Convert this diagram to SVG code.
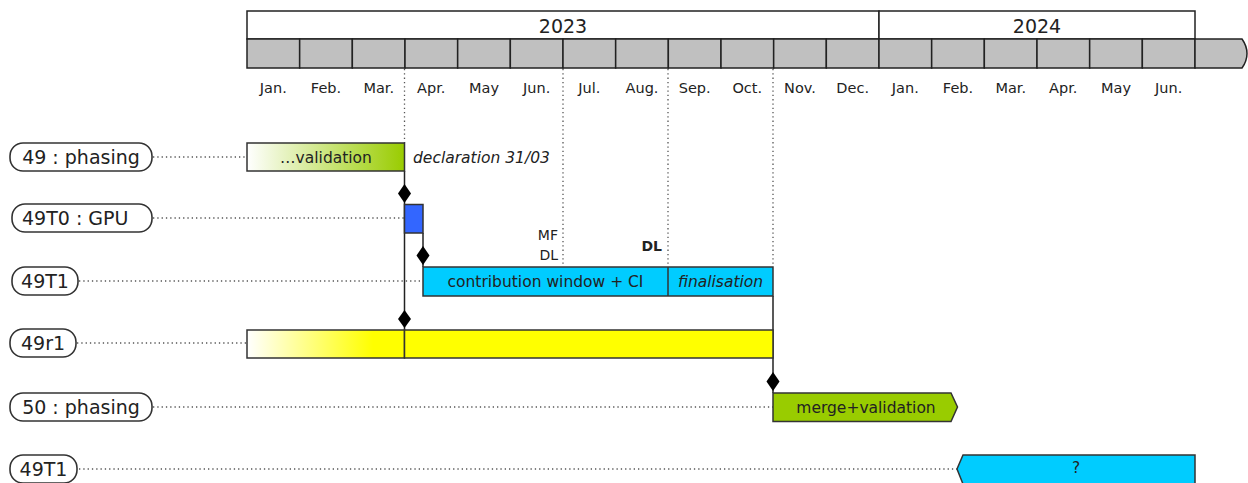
<svg xmlns="http://www.w3.org/2000/svg" width="1248" height="483" viewBox="0 0 1248 483">
<defs>
<linearGradient id="gGreen" x1="0" y1="0" x2="1" y2="0"><stop offset="0" stop-color="#ffffff"/><stop offset="1" stop-color="#99cc00"/></linearGradient>
<linearGradient id="gYellow" x1="0" y1="0" x2="1" y2="0"><stop offset="0" stop-color="#ffffff"/><stop offset="0.8" stop-color="#ffff00"/><stop offset="1" stop-color="#ffff00"/></linearGradient>
<style>
text{font-family:"DejaVu Sans","Liberation Sans",sans-serif;fill:#222}
.yr{font-size:19px;text-anchor:middle}
.mo{font-size:14.5px;text-anchor:middle}
.cell{fill:#c0c0c0;stroke:#222;stroke-width:1.5}
.ybox{fill:#fff;stroke:#222;stroke-width:1.5}
.lab{fill:#fff;stroke:#333;stroke-width:1.6}
.lt{font-size:19px}
.bar{stroke:#333;stroke-width:1.5}
.bt{font-size:15.5px;text-anchor:middle}
.dot{stroke:#555;stroke-width:1.3;stroke-dasharray:1.3 3;fill:none}
.sol{stroke:#222;stroke-width:1.5;fill:none}
.dia{fill:#000}
</style>
</defs>

<g id="timeline">
<rect class="ybox" x="247" y="11" width="632" height="28"/>
<rect class="ybox" x="879" y="11" width="316" height="28"/>
<text class="yr" x="563" y="33">2023</text>
<text class="yr" x="1037" y="33">2024</text>
<rect class="cell" x="247" y="39" width="52.67" height="29"/>
<rect class="cell" x="299.67" y="39" width="52.67" height="29"/>
<rect class="cell" x="352.33" y="39" width="52.67" height="29"/>
<rect class="cell" x="405" y="39" width="52.67" height="29"/>
<rect class="cell" x="457.67" y="39" width="52.67" height="29"/>
<rect class="cell" x="510.33" y="39" width="52.67" height="29"/>
<rect class="cell" x="563" y="39" width="52.67" height="29"/>
<rect class="cell" x="615.67" y="39" width="52.67" height="29"/>
<rect class="cell" x="668.33" y="39" width="52.67" height="29"/>
<rect class="cell" x="721" y="39" width="52.67" height="29"/>
<rect class="cell" x="773.67" y="39" width="52.67" height="29"/>
<rect class="cell" x="826.33" y="39" width="52.67" height="29"/>
<rect class="cell" x="879" y="39" width="52.67" height="29"/>
<rect class="cell" x="931.67" y="39" width="52.67" height="29"/>
<rect class="cell" x="984.33" y="39" width="52.67" height="29"/>
<rect class="cell" x="1037" y="39" width="52.67" height="29"/>
<rect class="cell" x="1089.67" y="39" width="52.67" height="29"/>
<rect class="cell" x="1142.33" y="39" width="52.67" height="29"/>
<path class="cell" d="M1195 39 H1242 Q1247 46 1247 53.5 Q1247 61 1242 68 H1195 Z"/>
<text class="mo" x="273.3" y="93">Jan.</text>
<text class="mo" x="326" y="93">Feb.</text>
<text class="mo" x="378.7" y="93">Mar.</text>
<text class="mo" x="431.3" y="93">Apr.</text>
<text class="mo" x="484" y="93">May</text>
<text class="mo" x="536.7" y="93">Jun.</text>
<text class="mo" x="589.3" y="93">Jul.</text>
<text class="mo" x="642" y="93">Aug.</text>
<text class="mo" x="694.7" y="93">Sep.</text>
<text class="mo" x="747.3" y="93">Oct.</text>
<text class="mo" x="800" y="93">Nov.</text>
<text class="mo" x="852.7" y="93">Dec.</text>
<text class="mo" x="905.3" y="93">Jan.</text>
<text class="mo" x="958" y="93">Feb.</text>
<text class="mo" x="1010.7" y="93">Mar.</text>
<text class="mo" x="1063.3" y="93">Apr.</text>
<text class="mo" x="1116" y="93">May</text>
<text class="mo" x="1168.7" y="93">Jun.</text>
</g>

<g id="connectors">
<line class="dot" x1="404.5" y1="69" x2="404.5" y2="143"/>
<line class="dot" x1="563" y1="69" x2="563" y2="264"/>
<line class="dot" x1="668" y1="69" x2="668" y2="266"/>
<line class="dot" x1="773" y1="69" x2="773" y2="266"/>
<line class="dot" x1="153" y1="157" x2="247" y2="157"/>
<line class="dot" x1="153" y1="218" x2="404" y2="218"/>
<line class="dot" x1="79" y1="281" x2="423" y2="281"/>
<line class="dot" x1="77" y1="343" x2="247" y2="343"/>
<line class="dot" x1="153" y1="407" x2="773" y2="407"/>
<line class="dot" x1="79" y1="469" x2="957" y2="469"/>
<line class="sol" x1="404.5" y1="171" x2="404.5" y2="330"/>
<line class="sol" x1="423" y1="233" x2="423" y2="267"/>
<line class="sol" x1="773" y1="296" x2="773" y2="393"/>
<path class="dia" d="M404.5 184 L411 193.5 L404.5 203 L398 193.5 Z"/>
<path class="dia" d="M423 246 L429.5 255.5 L423 265 L416.5 255.5 Z"/>
<path class="dia" d="M404.5 310 L411 319 L404.5 328 L398 319 Z"/>
<path class="dia" d="M773 372 L779.5 381.5 L773 391 L766.5 381.5 Z"/>
</g>

<g id="n49phasing">
<rect class="lab" x="10" y="143" width="142" height="28" rx="13"/>
<text class="lt" x="81" y="164" text-anchor="middle">49 : phasing</text>
<rect class="bar" x="247" y="143" width="157.5" height="28" fill="url(#gGreen)"/>
<text class="bt" x="326" y="162.5">…validation</text>
<text x="413" y="162.5" style="font-size:15.5px;font-style:italic">declaration 31/03</text>
</g>

<g id="n49T0">
<rect class="lab" x="12" y="204" width="140" height="28" rx="13"/>
<text class="lt" x="22" y="225">49T0 : GPU</text>
<rect class="bar" x="404.5" y="204.5" width="18.5" height="28.5" fill="#3366ff"/>
</g>

<g id="n49T1">
<rect class="lab" x="12" y="267" width="66" height="28" rx="13"/>
<text class="lt" x="45" y="288" text-anchor="middle">49T1</text>
<rect class="bar" x="423" y="267" width="350" height="29" fill="#00ccff"/>
<line class="bar" x1="668" y1="267" x2="668" y2="296"/>
<text class="bt" x="545.5" y="287">contribution window + CI</text>
<text class="bt" x="720.5" y="287" style="font-style:italic">finalisation</text>
<text x="558" y="240" style="font-size:14px;text-anchor:end">MF</text>
<text x="558" y="260" style="font-size:14px;text-anchor:end">DL</text>
<text x="662" y="251" style="font-size:14px;text-anchor:end;font-weight:bold">DL</text>
</g>

<g id="n49r1">
<rect class="lab" x="10" y="329" width="66" height="28" rx="13"/>
<text class="lt" x="43" y="350" text-anchor="middle">49r1</text>
<rect class="bar" x="247" y="330" width="157.5" height="28" fill="url(#gYellow)"/>
<rect class="bar" x="404.5" y="330" width="368.5" height="28" fill="#ffff00"/>
</g>

<g id="n50phasing">
<rect class="lab" x="10" y="393" width="142" height="28" rx="13"/>
<text class="lt" x="81" y="414" text-anchor="middle">50 : phasing</text>
<path class="bar" d="M773 393 H951 L957.5 407 L951 421.5 H773 Z" fill="#99cc00"/>
<text class="bt" x="866" y="413">merge+validation</text>
</g>

<g id="n49T1b">
<rect class="lab" x="10" y="455" width="67" height="28" rx="13"/>
<text class="lt" x="43.5" y="476" text-anchor="middle">49T1</text>
<path class="bar" d="M1195 455 H963 L957 469 L963 484 H1195 Z" fill="#00ccff"/>
<text class="bt" x="1076" y="473">?</text>
</g>
</svg>
